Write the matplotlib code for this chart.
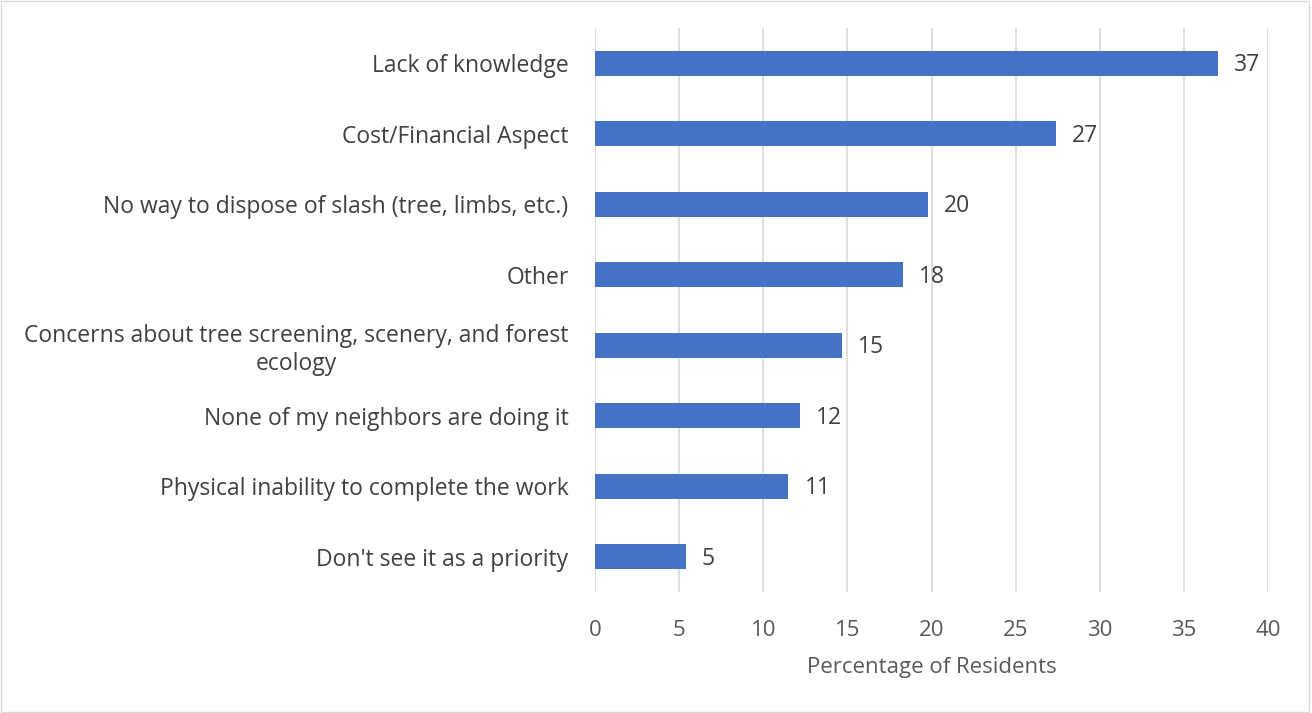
import matplotlib.pyplot as plt
from matplotlib.patches import Rectangle

categories = [
    "Lack of knowledge",
    "Cost/Financial Aspect",
    "No way to dispose of slash (tree, limbs, etc.)",
    "Other",
    "Concerns about tree screening, scenery, and forest\necology",
    "None of my neighbors are doing it",
    "Physical inability to complete the work",
    "Don't see it as a priority",
]
values = [37.0, 27.4, 19.8, 18.3, 14.7, 12.2, 11.5, 5.4]
value_labels = ["37", "27", "20", "18", "15", "12", "11", "5"]
xticks = [0, 5, 10, 15, 20, 25, 30, 35, 40]

plt.rcParams['font.family'] = ['Open Sans', 'DejaVu Sans']

fig = plt.figure(figsize=(13.12, 7.13), dpi=100)
ax = fig.add_axes([595 / 1312, 1 - 592 / 713, (1268 - 595) / 1312, (592 - 28) / 713])

ypos = list(range(len(categories)))
ax.barh(ypos, values, height=0.35, color='#4472c4', zorder=3)
ax.set_ylim(len(categories) - 0.5, -0.5)
ax.set_xlim(0, 40)

for y, v, lab in zip(ypos, values, value_labels):
    ax.text(v + 0.95, y + 0.03, lab, va='center', ha='left', fontsize=16.5, color='#404040')

ax.set_yticks(ypos)
ax.set_yticklabels(categories, fontsize=16.5, color='#404040',
                   multialignment='center', linespacing=1.2)
ax.set_xticks(xticks)
ax.set_xticklabels([str(t) for t in xticks], fontsize=16, color='#595959')
ax.tick_params(axis='both', length=0)
ax.tick_params(axis='y', pad=19)
ax.tick_params(axis='x', pad=20)

ax.grid(axis='x', color='#d9d9d9', linewidth=1.2, zorder=0)
for s in ax.spines.values():
    s.set_visible(False)

ax.set_xlabel("Percentage of Residents", fontsize=16, color='#595959', labelpad=12)

fig.patches.append(Rectangle((0.001, 0.001), 0.997, 0.997, transform=fig.transFigure,
                             fill=False, edgecolor='#d9d9d9', linewidth=1))

fig.savefig("out.png", dpi=100)
